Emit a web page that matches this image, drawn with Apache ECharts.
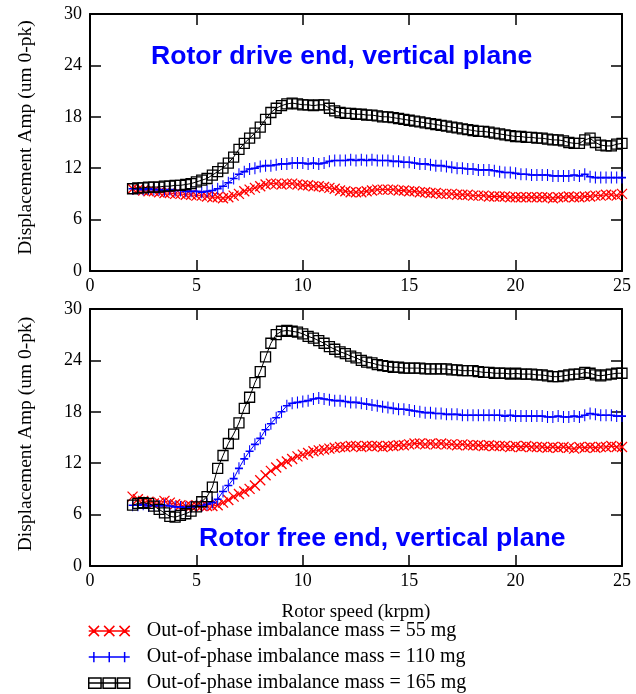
<!DOCTYPE html>
<html><head><meta charset="utf-8">
<script src="https://cdn.jsdelivr.net/npm/echarts@6/dist/echarts.min.js"></script>
<style>html,body{margin:0;padding:0;background:#fff}#c{width:636px;height:694px}</style>
</head><body><div id="c"></div>
<script>
// Rotor speed (krpm)
var speeds = [2,2.25,2.5,2.75,3,3.25,3.5,3.75,4,4.25,4.5,4.75,5,5.25,5.5,5.75,6,6.25,6.5,6.75,7,7.25,7.5,7.75,8,8.25,8.5,8.75,9,9.25,9.5,9.75,10,10.25,10.5,10.75,11,11.25,11.5,11.75,12,12.25,12.5,12.75,13,13.25,13.5,13.75,14,14.25,14.5,14.75,15,15.25,15.5,15.75,16,16.25,16.5,16.75,17,17.25,17.5,17.75,18,18.25,18.5,18.75,19,19.25,19.5,19.75,20,20.25,20.5,20.75,21,21.25,21.5,21.75,22,22.25,22.5,22.75,23,23.25,23.5,23.75,24,24.25,24.5,24.75,25];

// Drive end (top panel)
var drive55 = [9.6,9.5,9.4,9.3,9.3, 9.2,9.1,9.1,9.0, 9.0,8.9,8.9,8.8, 8.8,8.7,8.6,8.6, 8.5,8.6,8.8,9.0, 9.3,9.5,9.7,9.9, 10.1,10.2,10.2,10.1, 10.2,10.2,10.1,10.0, 10.0,9.9,9.9,9.8, 9.7,9.6,9.4,9.3, 9.2,9.2,9.2,9.3, 9.4,9.5,9.5,9.5, 9.5,9.4,9.4,9.3, 9.3,9.2,9.2,9.1, 9.1,9.0,9.0,9.0, 8.9,8.9,8.9,8.8, 8.8,8.8,8.7,8.7, 8.7,8.7,8.6,8.6, 8.6,8.6,8.6,8.6, 8.6,8.6,8.5,8.6, 8.6,8.7,8.6,8.6, 8.7,8.7,8.8,8.8, 8.9,8.9,8.8,9.0];
var drive110 = [9.6,9.6,9.5,9.6,9.5, 9.5,9.4,9.5,9.4, 9.4,9.3,9.3,9.3, 9.2,9.3,9.4,9.6, 9.9,10.3,10.8,11.3, 11.6,11.9,12.0,12.2, 12.3,12.3,12.4,12.5, 12.5,12.6,12.6,12.6, 12.5,12.6,12.5,12.6, 12.8,12.9,12.9,12.9, 13.0,12.9,13.0,12.9, 13.0,12.9,12.9,12.9, 12.8,12.8,12.7,12.7, 12.6,12.5,12.5,12.4, 12.3,12.3,12.2,12.1, 12.0,12.0,11.9,11.9, 11.8,11.8,11.8,11.7, 11.6,11.5,11.5,11.4, 11.3,11.3,11.2,11.2, 11.2,11.2,11.1,11.1, 11.1,11.1,11.2,11.1, 11.3,11.0,10.9,10.9, 10.9,10.9,10.9,10.9];
var drive165 = [9.6,9.7,9.7,9.8,9.8, 9.8,9.9,9.9,10.0, 10.0,10.1,10.2,10.4, 10.6,10.8,11.2,11.6, 12.0,12.6,13.3,14.2, 14.9,15.5,16.1,16.8, 17.7,18.5,19.0,19.3, 19.5,19.6,19.5,19.4, 19.4,19.3,19.4,19.4, 19.0,18.7,18.5,18.4, 18.4,18.3,18.3,18.2, 18.2,18.1,18.0,18.0, 17.9,17.8,17.7,17.6, 17.5,17.4,17.3,17.2, 17.1,17.0,16.9,16.8, 16.7,16.6,16.5,16.4, 16.3,16.3,16.2,16.1, 16.0,15.9,15.8,15.7, 15.7,15.6,15.6,15.5, 15.5,15.4,15.3,15.3, 15.2,15.0,14.9,14.9, 15.3,15.5,15.0,14.7, 14.6,14.6,14.8,14.9];

// Free end (bottom panel)
var free55 = [8.1,7.8,7.6,7.5,7.3, 7.4,7.6,7.4,7.2, 7.1,7.0,7.0,7.1, 7.0,7.0,7.0,7.1, 7.4,7.7,8.1,8.4, 8.7,9.0,9.4,10.0, 10.6,11.1,11.5,11.9, 12.2,12.5,12.8,13.0, 13.2,13.4,13.5,13.6, 13.7,13.8,13.9,13.9, 14.0,14.0,13.9,14.0, 14.0,14.0,13.9,14.0, 14.0,14.1,14.1,14.2, 14.3,14.3,14.2,14.3, 14.2,14.3,14.2,14.2, 14.1,14.2,14.1,14.1, 14.1,14.0,14.1,14.0, 14.0,14.0,13.9,14.0, 13.9,14.0,13.9,13.9, 13.9,13.8,13.9,13.8, 13.9,13.8,13.7,13.9, 13.8,13.9,13.8,13.9, 13.9,14.0,13.9,13.9];
var free110 = [7.1,7.1,7.2,7.0,7.1, 7.0,7.1,7.0,6.9, 6.9,6.8,6.9,7.0, 7.0,7.2,7.4,7.8, 8.7,9.4,10.2,11.4, 12.5,13.4,14.2,14.9, 15.9,16.6,17.3,18.0, 18.7,19.0,19.1,19.2, 19.3,19.5,19.6,19.5, 19.4,19.3,19.3,19.2, 19.1,19.1,19.0,18.9, 18.8,18.7,18.6,18.5, 18.4,18.3,18.3,18.2, 18.1,18.0,17.9,17.9, 17.8,17.8,17.7,17.7, 17.7,17.6,17.6,17.6, 17.6,17.6,17.6,17.6, 17.6,17.5,17.6,17.5, 17.5,17.5,17.5,17.5, 17.5,17.4,17.4,17.5, 17.4,17.4,17.5,17.4, 17.6,17.8,17.7,17.6, 17.6,17.6,17.5,17.5];
var free165 = [7.1,7.3,7.4,7.3,7.0, 6.6,6.2,5.8,5.7, 5.9,6.1,6.4,6.9, 7.5,8.1,9.2,11.4, 12.9,14.3,15.4,16.7, 18.4,19.7,21.4,22.7, 24.4,26.0,27.0,27.4, 27.5,27.4,27.3,27.1, 26.8,26.6,26.3,26.0, 25.6,25.3,25.0,24.8, 24.5,24.3,24.0,23.8, 23.7,23.5,23.4,23.3, 23.2,23.2,23.1,23.1, 23.1,23.1,23.0,23.0, 23.0,23.0,23.0,22.9, 22.9,22.8,22.8,22.8, 22.7,22.6,22.6,22.5, 22.5,22.5,22.4,22.5, 22.4,22.4,22.4,22.3, 22.3,22.2,22.1,22.1, 22.2,22.3,22.4,22.4, 22.6,22.5,22.3,22.2, 22.3,22.4,22.5,22.5];

var seriesNames = ['Out-of-phase imbalance mass = 55 mg','Out-of-phase imbalance mass = 110 mg','Out-of-phase imbalance mass = 165 mg'];
var panelTitles = ['Rotor drive end, vertical plane','Rotor free end, vertical plane'];
var yAxisName = 'Displacement Amp (um 0-pk)';
var xAxisName = 'Rotor speed (krpm)';

function pts(arr){ return speeds.map(function(s,i){ return [s, arr[i]]; }); }

var serif = 'Liberation Serif';
var colors = ['#ff0000','#0000ff','#000000'];
var symbols = ['path://M0,0L10,10M0,10L10,0', 'path://M4,0L4,12M0,6L8,6', 'path://M0,0L10,0L10,10L0,10Z'];
var symSizes = [[10,10],[8,12],[10,10]];
var legendIcons = [
  'path://M0,0L10,10M0,10L10,0M15,0L25,10M15,10L25,0M30,0L40,10M30,10L40,0M0,5L40,5',
  'path://M5,0L5,10M20,0L20,10M35,0L35,10M0,5L40,5',
  'path://M0,0L12,0L12,10L0,10ZM14,0L26,0L26,10L14,10ZM28,0L40,0L40,10L28,10ZM0,5L40,5'
];

function xAx(grid, pos, labels, name){
  var a = {type:'value', gridIndex:grid, position:pos, min:0, max:25, interval:5,
    axisLine:{show:true, onZero:false, lineStyle:{color:'#000', width:2}},
    axisTick:{show:true, inside:true, length:11, lineStyle:{color:'#000', width:1.5}},
    axisLabel:{show:labels, margin:6, color:'#000', fontFamily:serif, fontSize:18},
    splitLine:{show:false}};
  if(name){ a.name = name; a.nameLocation='middle'; a.nameGap=37; a.nameTextStyle={color:'#000', fontFamily:serif, fontSize:19}; }
  return a;
}
function yAx(grid, pos, labels, name, shift){
  var a = {type:'value', gridIndex:grid, position:pos, min:0, max:30, interval:6,
    axisLine:{show:true, onZero:false, lineStyle:{color:'#000', width:2}},
    axisTick:{show:true, inside:true, length:11, lineStyle:{color:'#000', width:1.5}},
    axisLabel:{show:labels, margin:8, color:'#000', fontFamily:serif, fontSize:18},
    splitLine:{show:false}};
  if(name){ a.name=name; a.nameLocation='middle'; a.nameGap=54; a.nameTextStyle={color:'#000', fontFamily:serif, fontSize:19.5, padding:[0,0,0,shift]}; }
  return a;
}

var panels = [[drive55, drive110, drive165],[free55, free110, free165]];
var series = [];
panels.forEach(function(p, pi){
  p.forEach(function(arr, k){
    series.push({
      name: seriesNames[k], type:'line', xAxisIndex: pi*2, yAxisIndex: pi*2,
      data: pts(arr), symbol: symbols[k], symbolSize: symSizes[k], showAllSymbol:true,
      lineStyle:{color:colors[k], width:1},
      itemStyle:{color:'rgba(0,0,0,0)', borderColor:colors[k], borderWidth:1.3},
      emphasis:{disabled:true}, z: 2+k
    });
  });
});

var chart = echarts.init(document.getElementById('c'), null, {renderer:'canvas'});
chart.setOption({
  animation:false,
  backgroundColor:'#fff',
  title:[
    {text:panelTitles[0], left:151, top:43, padding:0, textStyle:{color:'#0000ff', fontFamily:'Liberation Sans', fontWeight:'bold', fontSize:26.6}},
    {text:panelTitles[1], left:199, top:525, padding:0, textStyle:{color:'#0000ff', fontFamily:'Liberation Sans', fontWeight:'bold', fontSize:26.6}}
  ],
  grid:[{left:90, right:14, top:14, height:257},{left:90, right:14, top:309, height:257}],
  xAxis:[xAx(0,'bottom',true), xAx(0,'top',false), xAx(1,'bottom',true,xAxisName), xAx(1,'top',false)],
  yAxis:[yAx(0,'left',true,yAxisName,10), yAx(0,'right',false), yAx(1,'left',true,yAxisName,7), yAx(1,'right',false)],
  legend:{
    orient:'vertical', left:88, top:621, padding:0, itemGap:6, itemWidth:41, itemHeight:12,
    selectedMode:false,
    textStyle:{color:'#000', fontFamily:serif, fontSize:20, padding:[0,0,0,12]},
    data: seriesNames.map(function(n,k){
      return {name:n, icon:legendIcons[k], itemStyle:{color:'rgba(0,0,0,0)', borderColor:colors[k], borderWidth:1.5}};
    })
  },
  series: series
});
</script></body></html>
